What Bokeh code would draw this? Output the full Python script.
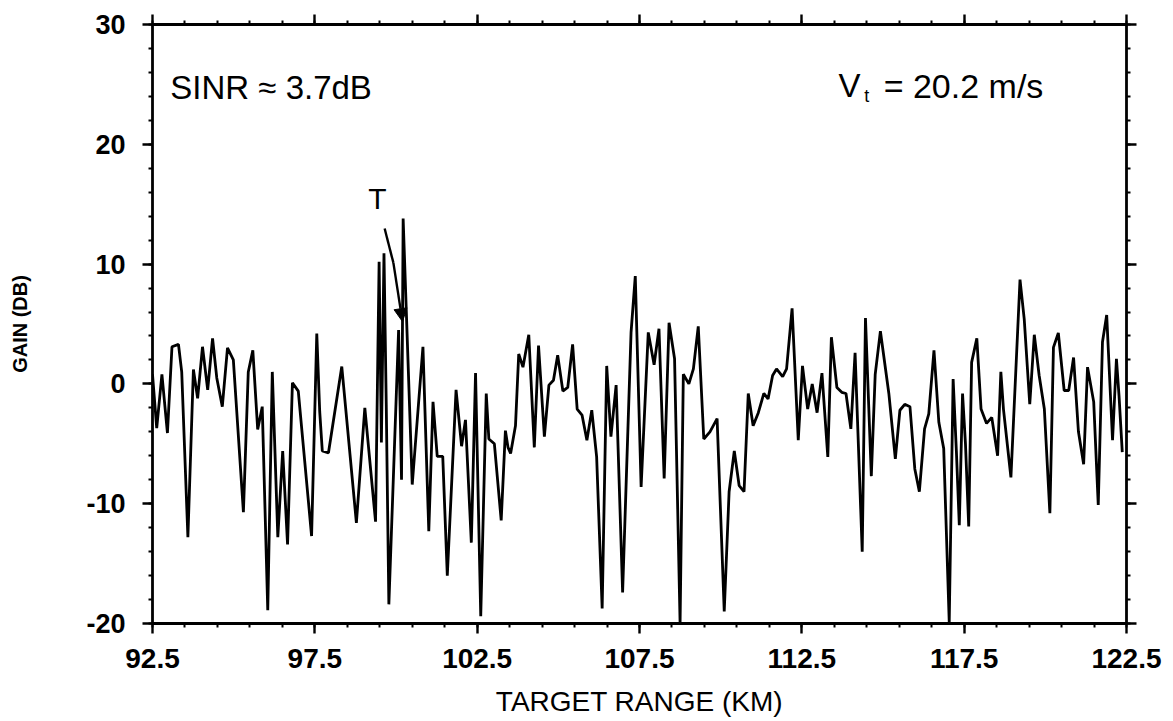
from bokeh.plotting import figure
from bokeh.models import FixedTicker, LinearAxis, Label, Arrow, NormalHead, Range1d
from bokeh.embed import file_html
from bokeh.resources import INLINE

# ---------------- data ----------------
range_km = [
    92.50, 92.63, 92.79, 92.96, 93.10, 93.30, 93.40, 93.59, 93.76, 93.89,
    94.04, 94.20, 94.35, 94.48, 94.65, 94.81, 94.99, 95.30, 95.45, 95.59,
    95.74, 95.88, 96.05, 96.19, 96.36, 96.51, 96.66, 96.81, 96.99, 97.40,
    97.56, 97.65, 97.73, 97.92, 98.33, 98.78, 99.04, 99.37, 99.48, 99.55,
    99.63, 99.70, 99.78, 100.08, 100.17, 100.22, 100.50, 100.83, 101.01, 101.14,
    101.27, 101.44, 101.58, 101.85, 102.02, 102.14, 102.32, 102.45, 102.61, 102.78,
    102.86, 103.03, 103.24, 103.37, 103.45, 103.53, 103.68, 103.78, 103.91, 104.09,
    104.26, 104.39, 104.57, 104.71, 104.85, 104.98, 105.14, 105.29, 105.44, 105.58,
    105.73, 105.88, 106.03, 106.18, 106.35, 106.49, 106.62, 106.78, 106.98, 107.24,
    107.37, 107.55, 107.77, 107.95, 108.10, 108.26, 108.41, 108.58, 108.75, 108.85,
    109.02, 109.16, 109.31, 109.48, 109.67, 109.89, 110.11, 110.26, 110.42, 110.57,
    110.72, 110.85, 111.00, 111.16, 111.33, 111.46, 111.60, 111.72, 111.91, 112.03,
    112.20, 112.39, 112.52, 112.68, 112.82, 112.97, 113.12, 113.30, 113.41, 113.58,
    113.73, 113.86, 114.01, 114.14, 114.36, 114.46, 114.64, 114.76, 114.92, 115.18,
    115.38, 115.52, 115.67, 115.83, 115.98, 116.12, 116.28, 116.41, 116.57, 116.72,
    116.87, 117.04, 117.16, 117.26, 117.35, 117.45, 117.54, 117.64, 117.73, 117.89,
    118.02, 118.19, 118.35, 118.53, 118.63, 118.71, 118.94, 119.22, 119.35, 119.52,
    119.66, 119.81, 119.97, 120.14, 120.25, 120.40, 120.58, 120.72, 120.87, 121.02,
    121.18, 121.30, 121.49, 121.63, 121.76, 121.89, 122.07, 122.19, 122.27, 122.37,
]
gain_db = [
    0.8, -3.7, 0.8, -4.1, 3.1, 3.3, 1.0, -12.8, 1.2, -1.2,
    3.1, -0.5, 3.8, 0.5, -1.9, 3.0, 2.0, -10.7, 1.0, 2.8,
    -3.8, -1.9, -18.9, 1.0, -12.8, -5.6, -13.4, 0.1, -0.6, -12.7,
    4.2, -2.3, -5.6, -5.75, 1.45, -11.6, -2.0, -11.5, 10.2, -4.9,
    10.9, -1.75, -18.4, 4.5, -8.0, 13.8, -8.4, 3.1, -12.3, -1.5,
    -6.05, -6.05, -16.0, -0.5, -5.2, -3.0, -13.25, 0.9, -19.4, -0.8,
    -4.6, -5.0, -11.4, -3.9, -5.3, -5.8, -3.5, 2.5, 1.4, 4.1,
    -5.3, 3.2, -4.4, -0.1, 0.3, 2.4, -0.6, -0.3, 3.3, -2.1,
    -2.6, -4.7, -2.2, -6.1, -18.75, 1.5, -4.4, -0.1, -17.4, 4.3,
    9.0, -8.6, 4.3, 1.6, 4.6, -7.9, 5.1, 2.1, -20.0, 0.8,
    0.0, 1.25, 4.8, -4.6, -4.0, -2.9, -19.0, -9.0, -5.6, -8.5,
    -9.0, -0.8, -3.5, -2.4, -0.8, -1.25, 0.7, 1.25, 0.6, 1.25,
    6.3, -4.7, 1.5, -2.1, 0.0, -2.4, 0.9, -6.1, 3.9, -0.3,
    -0.7, -0.8, -3.75, 2.6, -14.0, 5.5, -7.7, 0.8, 4.4, -0.8,
    -6.25, -2.2, -1.7, -1.9, -7.1, -9.0, -3.75, -2.5, 2.8, -3.2,
    -5.4, -19.9, 0.4, -5.6, -11.8, -0.8, -5.0, -11.9, 1.8, 3.8,
    -2.1, -3.3, -2.8, -6.0, 1.0, -2.1, -7.8, 8.7, 5.4, -1.7,
    4.1, 0.7, -2.1, -10.8, 3.05, 4.25, -0.55, -0.55, 2.2, -4.0,
    -6.7, 1.4, -1.5, -10.1, 3.5, 5.75, -4.7, 2.1, -1.0, -5.7,
]

x_major_ticks = [92.5, 97.5, 102.5, 107.5, 112.5, 117.5, 122.5]
x_tick_labels = ["92.5", "97.5", "102.5", "107.5", "112.5", "117.5", "122.5"]
x_minor_ticks = [92.5 + i for i in range(31)]
y_major_ticks = [-20, -10, 0, 10, 20, 30]
y_tick_labels = ["-20", "-10", "0", "10", "20", "30"]
y_minor_ticks = list(range(-20, 31, 2))

x_title = "TARGET RANGE (KM)"
y_title = "GAIN (DB)"
sinr_text = "SINR \u2248 3.7dB"
target_text = "T"

# annotation anchor points (data units)
ann = dict(sinr=(93.05, 24.75), v=(113.63, 24.9), vsub=(114.42, 24.0),
           veq=(115.02, 24.9), t=(99.43, 15.5),
           arr_a=(99.65, 12.97), arr_b=(99.92, 10.1), arr_tip=(100.2, 5.2))

FONT = "Liberation Sans"

p = figure(frame_width=974, frame_height=599,
           x_range=Range1d(92.5, 122.5), y_range=Range1d(-20, 30),
           output_backend="svg", toolbar_location=None,
           min_border_left=152, min_border_top=24, min_border_right=40,
           min_border_bottom=60)
p.grid.visible = False
p.outline_line_color = None
p.background_fill_color = "white"
p.border_fill_color = "white"

p.line(range_km, gain_db, line_color="black", line_width=2.8)

bottom_axis = p.below[0]
left_axis = p.left[0]
top_axis = LinearAxis()
right_axis = LinearAxis()
p.add_layout(top_axis, "above")
p.add_layout(right_axis, "right")

for ax in [bottom_axis, top_axis]:
    ax.ticker = FixedTicker(ticks=x_major_ticks, minor_ticks=x_minor_ticks)
for ax in [left_axis, right_axis]:
    ax.ticker = FixedTicker(ticks=y_major_ticks, minor_ticks=y_minor_ticks)

bottom_axis.major_label_overrides = dict(zip(x_major_ticks, x_tick_labels))
left_axis.major_label_overrides = dict(zip(y_major_ticks, y_tick_labels))

for ax in [bottom_axis, left_axis, top_axis, right_axis]:
    ax.axis_line_color = "black"
    ax.axis_line_width = 2.8
    ax.major_tick_line_color = "black"
    ax.major_tick_line_width = 2.4
    ax.major_tick_out = 10
    ax.major_tick_in = 0
    ax.minor_tick_line_color = "black"
    ax.minor_tick_line_width = 2
    ax.minor_tick_out = 4
    ax.minor_tick_in = 0
    ax.major_label_text_font = FONT
    ax.major_label_text_font_style = "bold"
    ax.major_label_text_color = "black"

bottom_axis.major_label_text_font_size = "28px"
left_axis.major_label_text_font_size = "27px"

for ax in [top_axis, right_axis]:
    ax.major_label_text_color = None
    ax.major_label_text_font_size = "1px"
    ax.major_label_standoff = 0

bottom_axis.major_label_standoff = 15
left_axis.major_label_standoff = 17

bottom_axis.axis_label = x_title
bottom_axis.axis_label_text_font = FONT
bottom_axis.axis_label_text_font_style = "normal"
bottom_axis.axis_label_text_font_size = "28px"
bottom_axis.axis_label_text_color = "black"
bottom_axis.axis_label_standoff = 15

left_axis.axis_label = y_title
left_axis.axis_label_text_font = FONT
left_axis.axis_label_text_font_style = "bold"
left_axis.axis_label_text_font_size = "20px"
left_axis.axis_label_text_color = "black"
left_axis.axis_label_standoff = 52

def lab(txt, pos, size, align="left"):
    return Label(x=pos[0], y=pos[1], text=txt, text_font=FONT,
                 text_font_size=size, text_color="black",
                 text_align=align, text_baseline="alphabetic")

p.add_layout(lab(sinr_text, ann["sinr"], "33px"))
p.add_layout(lab("V", ann["v"], "33px"))
p.add_layout(lab("t", ann["vsub"], "18px"))
p.add_layout(lab("= 20.2 m/s", ann["veq"], "34px"))
p.add_layout(lab(target_text, ann["t"], "30px", align="center"))

p.line([ann["arr_a"][0], ann["arr_b"][0]], [ann["arr_a"][1], ann["arr_b"][1]],
       line_color="black", line_width=2.4)
p.add_layout(Arrow(end=NormalHead(size=13, fill_color="black", line_color="black"),
                   x_start=ann["arr_b"][0], y_start=ann["arr_b"][1],
                   x_end=ann["arr_tip"][0], y_end=ann["arr_tip"][1],
                   line_color="black", line_width=2.4))

open("out.html", "w").write(file_html(p, INLINE))
